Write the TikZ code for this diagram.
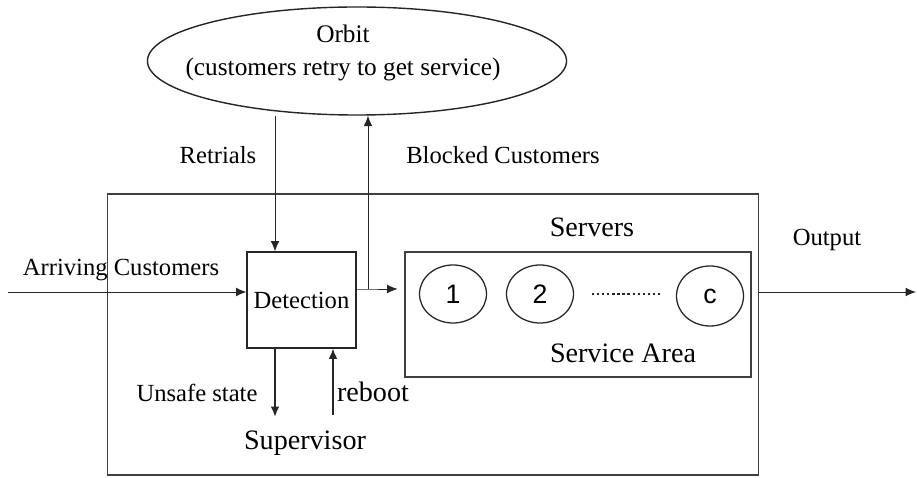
\documentclass[tikz,border=0pt]{standalone}
\usepackage{fontspec}
\setmainfont{Liberation Serif}
\newfontfamily\digitfont{Liberation Sans}
\usetikzlibrary{shapes.geometric,arrows.meta}
\tikzset{
  flow/.style={-{Latex[length=2.6mm,width=2.2mm]}, black!85, line width=0.7pt},
  boldflow/.style={flow, line width=1.4pt},
  lbl/.style={inner sep=0pt, font=\fontsize{17.5}{21}\selectfont},
  biglbl/.style={inner sep=0pt, font=\fontsize{20}{24}\selectfont},
  server/.style={ellipse, draw=black!85, line width=0.9pt, minimum width=1.675cm, minimum height=1.45cm, inner sep=0pt, font=\digitfont\fontsize{19}{22}\selectfont}
}
\begin{document}
\begin{tikzpicture}[x=0.025cm, y=-0.025cm]
      \useasboundingbox (0,0) rectangle (917,478);
      % Boxes
      \node[draw=black!75, line width=0.8pt, minimum width=16.25cm, minimum height=7.025cm, inner sep=0pt] (system) at (433,334.5) {};
      \node[draw=black!75, line width=0.8pt, minimum width=8.65cm, minimum height=3.125cm, inner sep=0pt] (servbox) at (578,314.5) {};
      \node[draw=black!85, line width=0.8pt, minimum width=2.725cm, minimum height=2.4cm, inner sep=0pt, lbl] (detect) at (301.5,300) {Detection};
      \node[ellipse, draw=black!85, line width=1pt, minimum width=10.475cm, minimum height=2.7cm] (orbit) at (357,61) {};
      \node[lbl, align=center, font=\fontsize{18}{24}\selectfont] (orbittext) at (343,53) {Orbit\\(customers retry to get service)};
      
      % Servers
      \node[server] (s1) at (453,294) {1};
      \node[server] (s2) at (540,294) {2};
      \node[server, minimum height=1.5cm] (sc) at (710,296) {c};
      \draw[dotted, line width=1.6pt, black!85] (592,294) -- (662,294);
      
      % Labels
      \node[lbl] (retrlbl) at (218,155) {Retrials};
      \node[lbl] (blocklbl) at (503,155) {Blocked Customers};
      \node[lbl] (arrlbl) at (121,270) {Arriving Customers};
      \node[biglbl] (servlbl) at (592,227) {Servers};
      \node[lbl] (outlbl) at (827,240) {Output};
      \node[biglbl] (arealbl) at (623,353) {Service Area};
      \node[lbl] (unsafelbl) at (197,393) {Unsafe state};
      \node[biglbl] (rebootlbl) at (373,392) {reboot};
      \node[biglbl] (suplbl) at (305,443) {Supervisor};
      
      % Connectors
      \coordinate (arrive) at (8,292);
      \coordinate (split) at (368,289);
      \coordinate (retry) at (275,116);
      \coordinate (outend) at (916,292);
      \coordinate (unsafe) at (275,417);
      \coordinate (reboot) at (333,415);
      \draw[flow] (arrive) -- (arrive -| detect.west);
      \draw[flow] (retry) -- (retry |- detect.north);
      \draw[flow] (detect.east |- split) -- (split) -- ([xshift=-0.17cm]servbox.west |- split);
      \draw[flow] (split) -- (split |- orbit.south);
      \draw[flow] (system.east |- outend) -- (outend);
      \draw[boldflow] (unsafe |- detect.south) -- (unsafe);
      \draw[flow, line width=1pt] (reboot) -- (reboot |- detect.south);
    \end{tikzpicture}
\end{document}
